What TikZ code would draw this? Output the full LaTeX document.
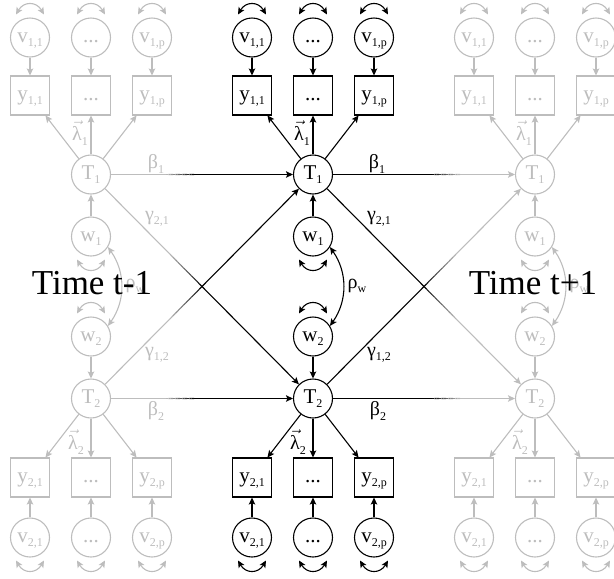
\documentclass[tikz,border=0pt]{standalone}
\usepackage{fontspec}
\setmainfont{Liberation Serif}
\usetikzlibrary{arrows.meta,calc}
\definecolor{faint}{gray}{0.74}
\newdimen\gxa
\newdimen\gxb
\newcommand\lsub[1]{\raisebox{-4.5pt}{\fontsize{12}{12}\selectfont #1}}
\newcommand\vlam[1]{$\vec{\hbox{λ}}$\lsub{#1}}
\tikzset{
  lat/.style={circle,draw,minimum size=39pt,inner sep=0pt,line width=1.1pt,
    text height=14.5pt,text depth=5pt,font=\fontsize{21}{22}\selectfont},
  obs/.style={rectangle,draw,minimum size=39pt,inner sep=0pt,line width=1.1pt,
    text height=14.5pt,text depth=5pt,font=\fontsize{21}{22}\selectfont},
  lbl/.style={inner sep=0pt,font=\fontsize{20}{22}\selectfont},
  conn/.style={line width=1.1pt},
  arr/.style={conn,-{Stealth[length=7pt,width=6.5pt,inset=1.5pt]}},
  dbl/.style={conn,{Stealth[length=7pt,width=6.5pt,inset=1.5pt]}-{Stealth[length=7pt,width=6.5pt,inset=1.5pt]}},
  timelbl/.style={inner sep=0pt,anchor=base,font=\fontsize{35}{38}\selectfont},
}
\newcommand\looptop[1]{\draw[dbl] ([shift={(-14,23)}]#1.center) to[out=60,in=120,looseness=1.4] ([shift={(14,23)}]#1.center);}
\newcommand\loopbot[1]{\draw[dbl] ([shift={(-14,-23)}]#1.center) to[out=-60,in=-120,looseness=1.4] ([shift={(14,-23)}]#1.center);}
\newcommand\panel[3]{%
\begin{scope}[xshift=#2pt,color=#3]
  \node[lat] (#1v11) at (-61,-37.5) {v\lsub{1,1}};
  \node[lat] (#1v1d) at (0,-37.5) {...};
  \node[lat] (#1v1p) at (61,-37.5) {v\lsub{1,p}};
  \node[obs] (#1y11) at (-61,-95.5) {y\lsub{1,1}};
  \node[obs] (#1y1d) at (0,-95.5) {...};
  \node[obs] (#1y1p) at (61,-95.5) {y\lsub{1,p}};
  \node[lat] (#1T1) at (0,-174.5) {T\lsub{1}};
  \node[lat] (#1w1) at (0,-236.5) {w\lsub{1}};
  \node[lat] (#1w2) at (0,-336.5) {w\lsub{2}};
  \node[lat] (#1T2) at (0,-398.5) {T\lsub{2}};
  \node[obs] (#1y21) at (-61,-477.5) {y\lsub{2,1}};
  \node[obs] (#1y2d) at (0,-477.5) {...};
  \node[obs] (#1y2p) at (61,-477.5) {y\lsub{2,p}};
  \node[lat] (#1v21) at (-61,-537.5) {v\lsub{2,1}};
  \node[lat] (#1v2d) at (0,-537.5) {...};
  \node[lat] (#1v2p) at (61,-537.5) {v\lsub{2,p}};
  \foreach \c in {11,1d,1p} {\draw[arr] (#1v\c) -- (#1y\c); \draw[arr] (#1T1) -- (#1y\c); \looptop{#1v\c}}
  \foreach \c in {21,2d,2p} {\draw[arr] (#1v\c) -- (#1y\c); \draw[arr] (#1T2) -- (#1y\c); \loopbot{#1v\c}}
  \draw[arr] (#1w1) -- (#1T1);
  \draw[arr] (#1w2) -- (#1T2);
  \loopbot{#1w1}
  \looptop{#1w2}
  \draw[dbl] (#1w1.-32) to[bend left=35] (#1w2.32);
  \node[lbl] (#1rho) at (44,-286) {ρ\lsub{w}};
  \node[lbl] (#1lam1) at (-11,-133) {\vlam{1}};
  \node[lbl] (#1lam2) at (-15,-442) {\vlam{2}};
\end{scope}}
% #1 from, #2 to, #3/#4 x range of the colour change, #5 start colour, #6 end colour
\newcommand\gradconn[6]{%
  \path (#1) -- (#2) coordinate[pos=0] (gs) coordinate[pos=1] (ge);
  \pgfextractx{\gxa}{\pgfpointanchor{gs}{center}}%
  \pgfextractx{\gxb}{\pgfpointanchor{ge}{center}}%
  \pgfmathsetmacro\tone{(#3-\gxa)/(\gxb-\gxa)}%
  \pgfmathsetmacro\ttwo{(#4-\gxa)/(\gxb-\gxa)}%
  \draw[conn,draw=#5] (gs) -- ($(gs)!\tone!(ge)$);
  \foreach \i in {0,...,11}{
    \pgfmathsetmacro\ta{\tone+\i/12*(\ttwo-\tone)}
    \pgfmathsetmacro\tb{\tone+(\i+1)/12*(\ttwo-\tone)}
    \pgfmathsetmacro\p{100*(\i+0.5)/12}
    \draw[conn,draw=#6!\p!#5] ($(gs)!\ta!(ge)$) -- ($(gs)!\tb!(ge)$);
  }
  \draw[arr,draw=#6] ($(gs)!\ttwo!(ge)$) -- (ge);
}
\begin{document}
\begin{tikzpicture}[x=1pt,y=1pt]
\useasboundingbox (0,0) rectangle (614,-579);
\panel{L}{91}{faint}
\panel{R}{535}{faint}
\panel{C}{313}{black}
\gradconn{LT1}{CT1}{166}{194}{faint}{black}
\gradconn{LT1}{CT2}{170}{202}{faint}{black}
\gradconn{LT2}{CT1}{170}{202}{faint}{black}
\gradconn{LT2}{CT2}{166}{194}{faint}{black}
\gradconn{CT1}{RT1}{432}{460}{black}{faint}
\gradconn{CT1}{RT2}{424}{456}{black}{faint}
\gradconn{CT2}{RT1}{424}{456}{black}{faint}
\gradconn{CT2}{RT2}{432}{460}{black}{faint}
\begin{scope}[color=faint]
  \node[lbl] (Lb1) at (156,-164) {β\lsub{1}};
  \node[lbl] (Lb2) at (156,-411) {β\lsub{2}};
  \node[lbl] (Lg21) at (157,-219) {γ\lsub{2,1}};
  \node[lbl] (Lg12) at (157,-355) {γ\lsub{1,2}};
\end{scope}
\node[lbl] (Cb1) at (377,-164) {β\lsub{1}};
\node[lbl] (Cb2) at (378,-411) {β\lsub{2}};
\node[lbl] (Cg21) at (379,-219) {γ\lsub{2,1}};
\node[lbl] (Cg12) at (379,-355) {γ\lsub{1,2}};
\node[timelbl] (tl) at (92,-294) {Time t-1};
\node[timelbl] (tr) at (533,-294) {Time t+1};
\end{tikzpicture}
\end{document}
